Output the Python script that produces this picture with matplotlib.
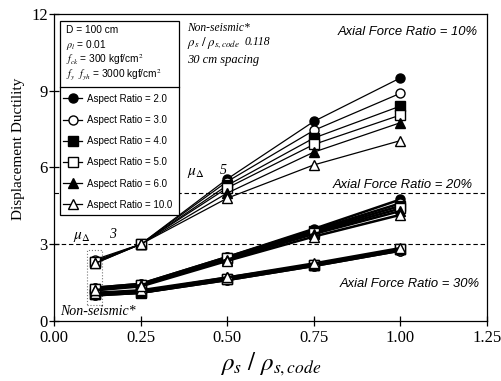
import matplotlib
matplotlib.use('Agg')
import matplotlib.pyplot as plt
from matplotlib.patches import Rectangle
from matplotlib.lines import Line2D

plt.rcParams['font.family'] = ['Liberation Serif', 'DejaVu Serif']
plt.rcParams['mathtext.fontset'] = 'stix'

# data
ratio = [0.118, 0.25, 0.50, 0.75, 1.00]
aspect_labels = ['Aspect Ratio = 2.0', 'Aspect Ratio = 3.0', 'Aspect Ratio = 4.0',
                 'Aspect Ratio = 5.0', 'Aspect Ratio = 6.0', 'Aspect Ratio = 10.0']

# axial force ratio 10%
duct_10 = [
    [2.35, 3.0, 5.55, 7.8, 9.5],
    [2.40, 3.0, 5.45, 7.45, 8.9],
    [2.30, 3.0, 5.30, 7.15, 8.4],
    [2.30, 3.0, 5.20, 6.9, 8.05],
    [2.25, 3.0, 5.00, 6.6, 7.75],
    [2.25, 3.0, 4.80, 6.1, 7.05],
]
# axial force ratio 20%
duct_20 = [
    [1.30, 1.45, 2.50, 3.60, 4.75],
    [1.30, 1.45, 2.50, 3.55, 4.60],
    [1.25, 1.40, 2.45, 3.50, 4.50],
    [1.25, 1.40, 2.45, 3.45, 4.40],
    [1.20, 1.40, 2.40, 3.40, 4.30],
    [1.20, 1.35, 2.35, 3.30, 4.15],
]
# axial force ratio 30%
duct_30 = [
    [1.00, 1.10, 1.60, 2.15, 2.75],
    [1.00, 1.10, 1.60, 2.15, 2.75],
    [1.05, 1.10, 1.65, 2.20, 2.80],
    [1.05, 1.15, 1.65, 2.20, 2.80],
    [1.10, 1.15, 1.70, 2.20, 2.80],
    [1.10, 1.20, 1.70, 2.25, 2.85],
]

markers = ['o', 'o', 's', 's', '^', '^']
faces = ['black', 'white', 'black', 'white', 'black', 'white']

fig = plt.figure(figsize=(5.02, 3.81), dpi=100)
ax = fig.add_axes([0.1076, 0.1575, 0.8625, 0.8058])
ax.set_xlim(0, 1.25)
ax.set_ylim(0, 12)

# reference ductility lines
ax.axhline(5, color='black', ls=(0, (4, 2.5)), lw=0.8, zorder=1)
ax.axhline(3, color='black', ls=(0, (4, 2.5)), lw=0.8, zorder=1)

for group, lw in [(duct_30, 1.8), (duct_20, 1.8), (duct_10, 0.9)]:
    for vals, m, fc in zip(group, markers, faces):
        ax.plot(ratio, vals, color='black', lw=lw, marker=m, ms=6.5,
                mfc=fc, mec='black', mew=1.0, zorder=3)

# dotted box around the non-seismic points
ax.add_patch(Rectangle((0.095, 0.62), 0.044, 2.15, fill=False, ec='#777777',
                       lw=0.8, ls=':', zorder=2))

# annotations
ax.text(0.385, 11.45, 'Non-seismic*', style='italic', fontsize=8.3, va='center')
ax.text(0.385, 10.85, r'$\rho_s\ /\ \rho_{s,code}$', fontsize=9.3, va='center')
ax.text(0.55, 10.9, '0.118', style='italic', fontsize=8.5, va='center')
ax.text(0.385, 10.2, '30 cm spacing', style='italic', fontsize=9, va='center')

sans = ['Liberation Sans', 'DejaVu Sans']
ax.text(1.222, 11.3, 'Axial Force Ratio = 10%', family=sans, style='italic',
        fontsize=9.4, ha='right', va='center')
ax.text(1.21, 5.3, 'Axial Force Ratio = 20%', family=sans, style='italic',
        fontsize=9.4, ha='right', va='center')
ax.text(1.228, 1.45, 'Axial Force Ratio = 30%', family=sans, style='italic',
        fontsize=9.4, ha='right', va='center')

ax.text(0.385, 5.8, r'$\mu_\Delta$', fontsize=11, va='center')
ax.text(0.48, 5.9, '5', style='italic', fontsize=10, va='center')
ax.text(0.055, 3.3, r'$\mu_\Delta$', fontsize=11, va='center')
ax.text(0.16, 3.4, '3', style='italic', fontsize=10, va='center')
ax.text(0.018, 0.38, 'Non-seismic*', style='italic', fontsize=10, va='center')

# parameter / legend box
ax.add_patch(Rectangle((0.014, 0.345), 0.275, 0.632, transform=ax.transAxes,
                       fc='white', ec='black', lw=0.9, zorder=4))
ax.add_line(Line2D([0.014, 0.289], [0.762, 0.762], transform=ax.transAxes,
                   color='black', lw=0.9, zorder=4.5))
params = ['D = 100 cm', r'$\rho_l$ = 0.01', r'$f_{ck}$ = 300 kgf/cm$^2$',
          r'$f_y$  $f_{yh}$ = 3000 kgf/cm$^2$']
for i, p in enumerate(params):
    ax.text(0.028, 0.948 - i * 0.048, p, transform=ax.transAxes, family=sans,
            fontsize=7.3, va='center', zorder=5)

handles = [Line2D([], [], color='black', lw=0.9, marker=m, ms=6.5, mfc=fc,
                  mec='black', mew=1.0) for m, fc in zip(markers, faces)]
leg = ax.legend(handles, aspect_labels, loc='upper left',
                bbox_to_anchor=(0.005, 0.762), frameon=False,
                prop={'family': sans, 'size': 7}, handlelength=2.0,
                labelspacing=1.15, handletextpad=0.5, borderaxespad=0.3)
leg.set_zorder(5)

ax.set_xticks([0, 0.25, 0.5, 0.75, 1.0, 1.25])
ax.set_xticklabels(['0.00', '0.25', '0.50', '0.75', '1.00', '1.25'])
ax.set_yticks([0, 3, 6, 9, 12])
ax.tick_params(direction='inout', length=7, width=0.9, labelsize=12, pad=1)
ax.tick_params(axis='x', pad=3)
for s in ax.spines.values():
    s.set_linewidth(0.9)

ax.set_ylabel('Displacement Ductility', fontsize=11)
ax.yaxis.set_label_coords(-0.066, 0.56)
ax.set_xlabel(r'$\rho_s\ /\ \rho_{s,code}$', fontsize=18, labelpad=3)

fig.savefig('out.png', dpi=100, facecolor='white')
